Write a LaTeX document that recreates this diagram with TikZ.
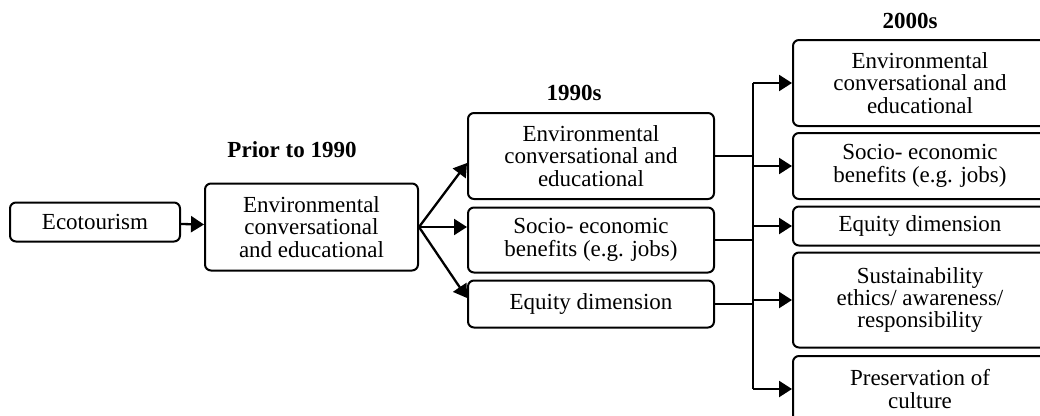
\documentclass[tikz,border=0pt]{standalone}
\usepackage{fontspec}
\setmainfont{Liberation Serif}
\usetikzlibrary{arrows.meta}
\begin{document}
\begin{tikzpicture}[x=1pt,y=-1pt,
  box/.style={draw,line width=2pt,rounded corners=6pt,align=center,
    inner sep=0pt,font=\fontsize{23}{22.3}\selectfont},
  era/.style={font=\fontsize{23}{22}\selectfont\bfseries},
  link/.style={line width=2.3pt},
  arr/.style={link,-{Triangle[length=13pt,width=16pt]}}]
\useasboundingbox (0,0) rectangle (1040,415);
\begin{scope}
\clip (0,0) rectangle (1040,415);
% first column
\node[box,minimum width=170pt,minimum height=39pt] (eco) at (95,222) {Ecotourism};
\node[box,minimum width=213pt,minimum height=87pt] (pre) at (311.5,227)
  {Environmental\\conversational\\and educational};
\node[era] (lpre) at (292,150) {Prior to 1990};
% 1990s
\node[era] (l90) at (574,93) {1990s};
\node[box,minimum width=246pt,minimum height=86pt] (n1) at (591,156)
  {Environmental\\conversational and\\educational};
\node[box,minimum width=246pt,minimum height=65pt] (n2) at (591,240)
  {Socio- economic\\benefits (e.g. jobs)};
\node[box,minimum width=246pt,minimum height=47pt] (n3) at (591,304)
  {Equity dimension};
% 2000s
\node[era] (l00) at (910,21) {2000s};
\node[box,minimum width=254pt,minimum height=86pt] (m1) at (920,83)
  {Environmental\\conversational and\\educational};
\node[box,minimum width=254pt,minimum height=66pt] (m2) at (920,166)
  {Socio- economic\\benefits (e.g. jobs)};
\node[box,minimum width=254pt,minimum height=39pt] (m3) at (920,226)
  {Equity dimension};
\node[box,minimum width=254pt,minimum height=95pt] (m4) at (920,300)
  {Sustainability\\ethics/ awareness/\\responsibility};
\node[box,minimum width=254pt,minimum height=66pt] (m5) at (920,389)
  {Preservation of\\culture};
\end{scope}
% connectors
\coordinate (bus) at (753,0);
\draw[arr] (eco) -- (pre);
\draw[arr] (pre.east) -- ([yshift=-7pt]n1.west);
\draw[arr] (pre.east) -- (n2.west |- pre.east);
\draw[arr] (pre.east) -- ([yshift=6pt]n3.west);
\draw[link] (n1.east) -- (n1.east -| bus);
\draw[link] (n2.east) -- (n2.east -| bus);
\draw[link] (n3.east) -- (n3.east -| bus);
\draw[link] (bus |- m1) -- (bus |- m5);
\foreach \m in {m1,m2,m3,m4,m5}
  \draw[arr] (bus |- \m) -- (\m.west);
\end{tikzpicture}
\end{document}
